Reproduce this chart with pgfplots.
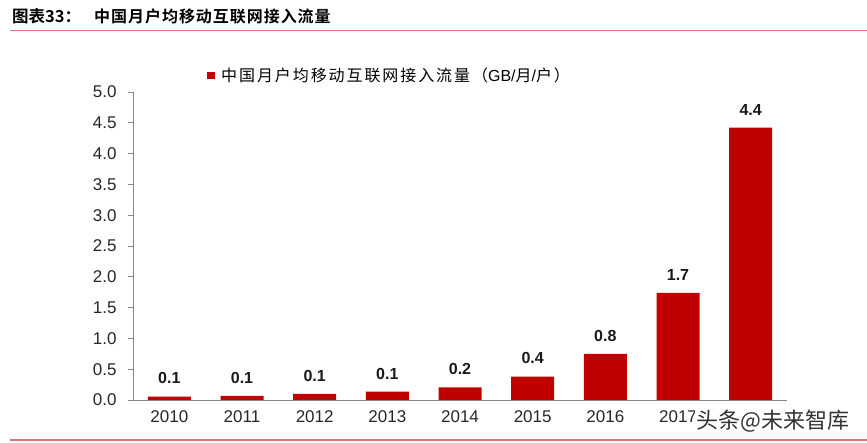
\documentclass[border=0pt]{standalone}
\usepackage{pgfplots}
\pgfplotsset{compat=1.18}
\usepackage{fontspec}
\setmainfont{Liberation Sans}
\newfontfamily\lat{Liberation Sans}
\newfontfamily\cjk{Noto Sans CJK SC}
\newfontfamily\cjkb{Noto Sans CJK SC Bold}
\definecolor{barred}{HTML}{C00000}
\definecolor{linered}{HTML}{E37373}
\definecolor{axgray}{HTML}{868686}
\begin{document}
\begin{tikzpicture}[x=1bp,y=1bp]
\useasboundingbox (0,0) rectangle (867,443);
% title and rules
\node[anchor=west,inner sep=0pt] at (12,427) {\fontsize{16.5bp}{18bp}\selectfont\cjkb 图表33：};
\node[anchor=west,inner sep=0pt] at (94,427) {\fontsize{16bp}{18bp}\selectfont\cjkb\addfontfeature{LetterSpace=6}中国月户均移动互联网接入流量};
\draw[linered,line width=1.2bp] (10,412.5) -- (867,412.5);
\draw[linered,line width=1.2bp] (10,3) -- (867,3);
\begin{axis}[
    at={(133bp,43bp)}, anchor=south west,
    width=654bp, height=308bp, scale only axis,
    ybar, bar width=43bp, bar shift=0pt,
    xmin=-0.5, xmax=8.5, ymin=0, ymax=5,
    xtick={0,...,8},
    xticklabels={2010,2011,2012,2013,2014,2015,2016,2017,2018},
    major x tick style={draw=none},
    extra x ticks={-0.5,0.5,...,8.5},
    extra x tick labels={},
    extra x tick style={major tick length=5bp, tick style={axgray, line width=0.8bp}},
    ytick={0,0.5,...,5},
    yticklabel style={/pgf/number format/fixed, /pgf/number format/fixed zerofill,
      /pgf/number format/precision=1, /pgf/number format/assume math mode=true, xshift=-8bp},
    axis x line*=bottom, axis y line*=left,
    axis line style={axgray, line width=0.8bp, -},
    tick align=outside, major tick length=5bp,
    ytick style={axgray, line width=0.8bp},
    tick label style={font=\fontsize{17bp}{19bp}\selectfont, text=black!85},
    xticklabel style={yshift=-2bp},
    nodes near coords,
    nodes near coords style={font=\fontsize{16bp}{18bp}\selectfont\bfseries, text=black!90,
      /pgf/number format/fixed, /pgf/number format/fixed zerofill,
      /pgf/number format/precision=1, /pgf/number format/assume math mode=true},
    every node near coord/.append style={anchor=south, yshift=9bp},
    clip=false,
]
\addplot[fill=barred, draw=none] coordinates {
    (0,0.055) (1,0.065) (2,0.1) (3,0.135) (4,0.205)
    (5,0.38) (6,0.75) (7,1.74) (8,4.42)
};
\end{axis}
% legend
\fill[barred] (207,364) rectangle (215,371);
\node[anchor=west,inner sep=0pt] at (221,368) {\fontsize{16bp}{18bp}\selectfont\cjk\addfontfeature{LetterSpace=12}中国月户均移动互联网接入流量（{\lat GB/}月{\lat /}户）};
% watermark
\node[anchor=west,inner sep=1bp,fill=white,text=black!80] at (695,22) {\fontsize{22bp}{24bp}\selectfont\cjk 头条@未来智库};
\end{tikzpicture}
\end{document}
